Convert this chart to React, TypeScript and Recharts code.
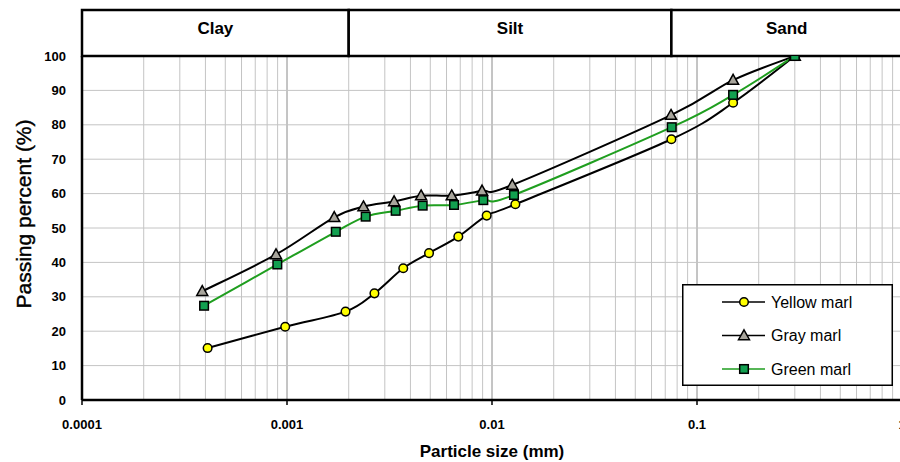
import React from 'react';
import { LineChart, Line, XAxis, YAxis, CartesianGrid, ReferenceArea, Legend, Label } from 'recharts';

// ---------- axes / ticks ----------
const X_TICKS = [0.0001, 0.001, 0.01, 0.1, 1];
const Y_TICKS = [0, 10, 20, 30, 40, 50, 60, 70, 80, 90, 100];
const DECADES = [0.0001, 0.001, 0.01, 0.1];
const MINOR_MULTS = [2, 3, 4, 5, 6, 7, 8, 9];
const MAJOR_LINES = [0.001, 0.01, 0.1];

// ---------- soil classification header ----------
const ZONE_NAMES = ['Clay', 'Silt', 'Sand'];
const ZONE_BOUNDS = [0.0001, 0.002, 0.075, 1];
const HEADER_TOP = 113.4;

// ---------- series ----------
const yellowSizes = [0.00041, 0.00098, 0.00193, 0.00267, 0.00369, 0.00493, 0.00685, 0.00942, 0.013, 0.075, 0.15, 0.3];
const yellowPassing = [15.1, 21.3, 25.7, 31.0, 38.3, 42.7, 47.5, 53.6, 56.9, 75.8, 86.4, 100];

const graySizes = [0.000386, 0.000884, 0.0017, 0.00236, 0.00333, 0.00451, 0.00636, 0.00894, 0.01256, 0.0747, 0.15, 0.3];
const grayPassing = [31.6, 42.3, 53.1, 56.2, 57.7, 59.4, 59.4, 60.8, 62.5, 82.8, 93.0, 100];

const greenSizes = [0.000394, 0.000897, 0.00173, 0.00242, 0.00339, 0.00459, 0.00653, 0.00907, 0.0128, 0.0753, 0.15, 0.3];
const greenPassing = [27.4, 39.4, 48.9, 53.3, 55.0, 56.5, 56.7, 58.1, 59.6, 79.3, 88.7, 100];

const SERIES_NAMES = ['Yellow marl', 'Gray marl', 'Green marl'];

const toData = (xs: number[], ys: number[]) => xs.map((x, i) => ({ x, y: ys[i] }));
const yellowData = toData(yellowSizes, yellowPassing);
const grayData = toData(graySizes, grayPassing);
const greenData = toData(greenSizes, greenPassing);

const MINOR_LINES = DECADES.flatMap((d) => MINOR_MULTS.map((m) => d * m));

const FONT = '"Liberation Sans", Arial, sans-serif';
const YELLOW = '#ffff00';
const GRAY_FILL = '#a8a59c';
const GREEN_FILL = '#12a050';
const GREEN_LINE = '#1f9e1f';

// Excel-style smoothed line (uniform Catmull-Rom as cubic Bezier)
const smoothCurve = (context: any) => {
  let pts: [number, number][] = [];
  return {
    areaStart() {},
    areaEnd() {},
    lineStart() {
      pts = [];
    },
    lineEnd() {
      const n = pts.length;
      if (n === 0) return;
      context.moveTo(pts[0][0], pts[0][1]);
      if (n === 1) return;
      const t = 1 / 6;
      for (let i = 0; i < n - 1; i++) {
        const p0 = pts[Math.max(0, i - 1)];
        const p1 = pts[i];
        const p2 = pts[i + 1];
        const p3 = pts[Math.min(n - 1, i + 2)];
        context.bezierCurveTo(
          p1[0] + (p2[0] - p0[0]) * t,
          p1[1] + (p2[1] - p0[1]) * t,
          p2[0] - (p3[0] - p1[0]) * t,
          p2[1] - (p3[1] - p1[1]) * t,
          p2[0],
          p2[1]
        );
      }
    },
    point(x: number, y: number) {
      pts.push([+x, +y]);
    },
  };
};

// ---------- markers ----------
const circleShape = (cx: number, cy: number, key?: any) => (
  <circle key={key} cx={cx} cy={cy} r={4.3} fill={YELLOW} stroke="#000" strokeWidth={1.5} />
);
const triangleShape = (cx: number, cy: number, key?: any) => (
  <polygon
    key={key}
    points={`${cx},${cy - 5.7} ${cx + 5.5},${cy + 4.2} ${cx - 5.5},${cy + 4.2}`}
    fill={GRAY_FILL}
    stroke="#000"
    strokeWidth={1.5}
    strokeLinejoin="miter"
  />
);
const squareShape = (cx: number, cy: number, key?: any) => (
  <rect key={key} x={cx - 4.3} y={cy - 4.3} width={8.6} height={8.6} fill={GREEN_FILL} stroke="#000" strokeWidth={1.5} />
);

const mkDot = (shape: (cx: number, cy: number, key?: any) => React.ReactElement) => (p: any) => {
  const key = `dot-${p.index}`;
  if (p.cx == null || p.cy == null) return <g key={key} />;
  return shape(p.cx, p.cy, key);
};

const SHAPES = [circleShape, triangleShape, squareShape];
const LINE_COLORS = ['#000', '#000', GREEN_LINE];

const renderLegend = () => (
  <svg width={211} height={102} style={{ display: 'block' }}>
    <rect x={0.75} y={0.75} width={209.5} height={100.5} fill="#fff" stroke="#000" strokeWidth={1.5} />
    {SERIES_NAMES.map((name, i) => {
      const cy = 18 + i * 33.5;
      return (
        <g key={name}>
          <line x1={40} x2={83} y1={cy} y2={cy} stroke={LINE_COLORS[i]} strokeWidth={1.5} />
          {SHAPES[i](62, cy)}
          <text x={89} y={cy} dominantBaseline="central" fontFamily={FONT} fontSize={16} fill="#000">
            {name}
          </text>
        </g>
      );
    })}
  </svg>
);

const gridX = (values: number[]) => (props: any) => {
  const { xAxis, offset } = props;
  if (xAxis && typeof xAxis.scale === 'function') {
    return values.map((v) => xAxis.scale(v));
  }
  const left = offset?.left ?? 82;
  const width = offset?.width ?? 820;
  return values.map((v) => left + ((Math.log10(v) + 4) / 4) * width);
};

const zoneLabel = (name: string) => (p: any) => {
  const vb = p.viewBox || { x: 0, y: 10, width: 0, height: 46 };
  return (
    <text
      x={vb.x + vb.width / 2}
      y={vb.y + vb.height / 2 - 4}
      textAnchor="middle"
      dominantBaseline="central"
      fontFamily={FONT}
      fontSize={17}
      fontWeight={700}
      fill="#000"
    >
      {name}
    </text>
  );
};

export default function App() {
  return (
    <div style={{ position: 'fixed', left: 0, top: 0, width: 900, height: 462, overflow: 'hidden', background: '#fff' }}>
      <LineChart width={910} height={462} margin={{ top: 56, right: 8, bottom: 0, left: 0 }}>
        <CartesianGrid horizontal={false} vertical stroke="#c4c4c4" strokeWidth={1} verticalCoordinatesGenerator={gridX(MINOR_LINES)} />
        <CartesianGrid horizontal={false} vertical stroke="#8a8a8a" strokeWidth={1} verticalCoordinatesGenerator={gridX(MAJOR_LINES)} />
        <CartesianGrid vertical={false} horizontal stroke="#c4c4c4" strokeWidth={1} />
        <XAxis
          dataKey="x"
          type="number"
          scale="log"
          domain={[0.0001, 1]}
          allowDataOverflow
          ticks={X_TICKS}
          interval={0}
          height={62}
          tickSize={5}
          tickMargin={15}
          tickFormatter={(v: number) => String(v)}
          axisLine={{ stroke: '#000', strokeWidth: 2.5 }}
          tickLine={{ stroke: '#000', strokeWidth: 1.5 }}
          tick={{ fill: '#000', fontSize: 13, fontWeight: 700, fontFamily: FONT }}
        >
          <Label
            content={(p: any) => {
              const vb = p.viewBox || { x: 82, width: 820 };
              return (
                <text
                  x={vb.x + vb.width / 2}
                  y={451}
                  textAnchor="middle"
                  dominantBaseline="central"
                  fontFamily={FONT}
                  fontSize={17}
                  fontWeight={700}
                  fill="#000"
                >
                  Particle size (mm)
                </text>
              );
            }}
          />
        </XAxis>
        <YAxis
          type="number"
          domain={[0, 100]}
          allowDataOverflow
          ticks={Y_TICKS}
          interval={0}
          width={82}
          tickSize={0}
          tickMargin={16}
          tickLine={false}
          axisLine={{ stroke: '#000', strokeWidth: 2.5 }}
          tick={{ fill: '#000', fontSize: 13, fontWeight: 700, fontFamily: FONT }}
        >
          <Label
            content={(p: any) => {
              const vb = p.viewBox || { y: 56, height: 344 };
              const cx = 23;
              const cy = vb.y + vb.height / 2 - 14;
              return (
                <text
                  x={cx}
                  y={cy}
                  transform={`rotate(-90 ${cx} ${cy})`}
                  textAnchor="middle"
                  dominantBaseline="central"
                  fontFamily={FONT}
                  fontSize={21}
                  fill="#000"
                  stroke="#000"
                  strokeWidth={0.4}
                >
                  Passing percent (%)
                </text>
              );
            }}
          />
        </YAxis>

        {ZONE_NAMES.map((name, i) => (
          <ReferenceArea
            key={name}
            x1={ZONE_BOUNDS[i]}
            x2={ZONE_BOUNDS[i + 1]}
            y1={100}
            y2={HEADER_TOP}
            ifOverflow="visible"
            fill="#fff"
            fillOpacity={1}
            stroke="#000"
            strokeWidth={2.5}
            label={zoneLabel(name)}
          />
        ))}

        <Line
          data={yellowData}
          dataKey="y"
          name={SERIES_NAMES[0]}
          type={smoothCurve as any}
          stroke="#000"
          strokeWidth={2}
          dot={mkDot(circleShape)}
          activeDot={false}
          isAnimationActive={false}
        />
        <Line
          data={grayData}
          dataKey="y"
          name={SERIES_NAMES[1]}
          type={smoothCurve as any}
          stroke="#000"
          strokeWidth={2}
          dot={mkDot(triangleShape)}
          activeDot={false}
          isAnimationActive={false}
        />
        <Line
          data={greenData}
          dataKey="y"
          name={SERIES_NAMES[2]}
          type={smoothCurve as any}
          stroke={GREEN_LINE}
          strokeWidth={2}
          dot={mkDot(squareShape)}
          activeDot={false}
          isAnimationActive={false}
        />
        <Legend
          layout="vertical"
          align="center"
          verticalAlign="middle"
          content={renderLegend}
          wrapperStyle={{ position: 'absolute', left: 682, top: 284, width: 211, height: 102 }}
        />
      </LineChart>
    </div>
  );
}
